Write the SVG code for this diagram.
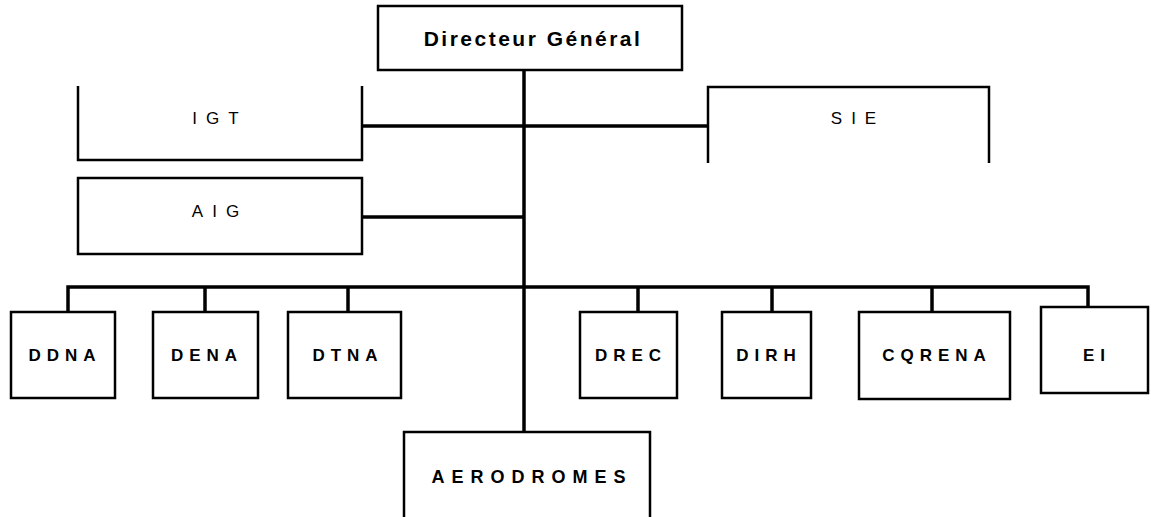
<svg xmlns="http://www.w3.org/2000/svg" width="1151" height="517" viewBox="0 0 1151 517">
<style>
.box{fill:#fff;stroke:#000;stroke-width:2.5}
.open{fill:none;stroke:#000;stroke-width:2.5}
.c{fill:none;stroke:#000;stroke-width:3.5}
text{font-family:"Liberation Sans",Arial,sans-serif;fill:#000;text-anchor:middle}
.t{font-size:17px;letter-spacing:6px;font-weight:bold}
.m{font-size:17px;letter-spacing:9px}
</style>
<rect width="1151" height="517" fill="#fff"/>
<g id="connectors">
<line class="c" x1="524" y1="70" x2="524" y2="432"/>
<line class="c" x1="362" y1="126" x2="708" y2="126"/>
<line class="c" x1="362" y1="217" x2="524" y2="217"/>
<polyline class="c" points="68,312 68,287 1088,287 1088,307"/>
<line class="c" x1="205" y1="287" x2="205" y2="312"/>
<line class="c" x1="348" y1="287" x2="348" y2="312"/>
<line class="c" x1="638" y1="287" x2="638" y2="312"/>
<line class="c" x1="772" y1="287" x2="772" y2="312"/>
<line class="c" x1="932" y1="287" x2="932" y2="312"/>
</g>
<g id="dg">
<rect class="box" x="378" y="6" width="304" height="64"/>
<text x="533" y="46" style="font-size:21px;font-weight:bold;letter-spacing:2.5px">Directeur Général</text>
</g>
<g id="igt">
<polyline class="open" points="78,86 78,160 362,160 362,86"/>
<text class="m" x="220" y="124">IGT</text>
</g>
<g id="sie">
<polyline class="open" points="708,163 708,87 989,87 989,163"/>
<text class="m" x="858" y="124">SIE</text>
</g>
<g id="aig">
<rect class="box" x="78" y="178" width="284" height="76"/>
<text class="m" x="220" y="217">AIG</text>
</g>
<g id="ddna">
<rect class="box" x="11" y="312" width="104" height="86"/>
<text class="t" x="65" y="361">DDNA</text>
</g>
<g id="dena">
<rect class="box" x="153" y="312" width="105" height="86"/>
<text class="t" x="207" y="361">DENA</text>
</g>
<g id="dtna">
<rect class="box" x="288" y="312" width="113" height="86"/>
<text class="t" x="348" y="361">DTNA</text>
</g>
<g id="drec">
<rect class="box" x="580" y="312" width="97" height="86"/>
<text class="t" x="631" y="361">DREC</text>
</g>
<g id="dirh">
<rect class="box" x="722" y="312" width="89" height="86"/>
<text class="t" x="769" y="361">DIRH</text>
</g>
<g id="cqrena">
<rect class="box" x="859" y="312" width="151" height="87"/>
<text class="t" x="937" y="361">CQRENA</text>
</g>
<g id="ei">
<rect class="box" x="1041" y="307" width="107" height="86"/>
<text class="t" x="1097" y="361">EI</text>
</g>
<g id="aerodromes">
<rect class="box" x="404" y="432" width="246" height="100"/>
<text x="532" y="483" style="font-size:18px;font-weight:bold;letter-spacing:7px">AERODROMES</text>
</g>
</svg>
